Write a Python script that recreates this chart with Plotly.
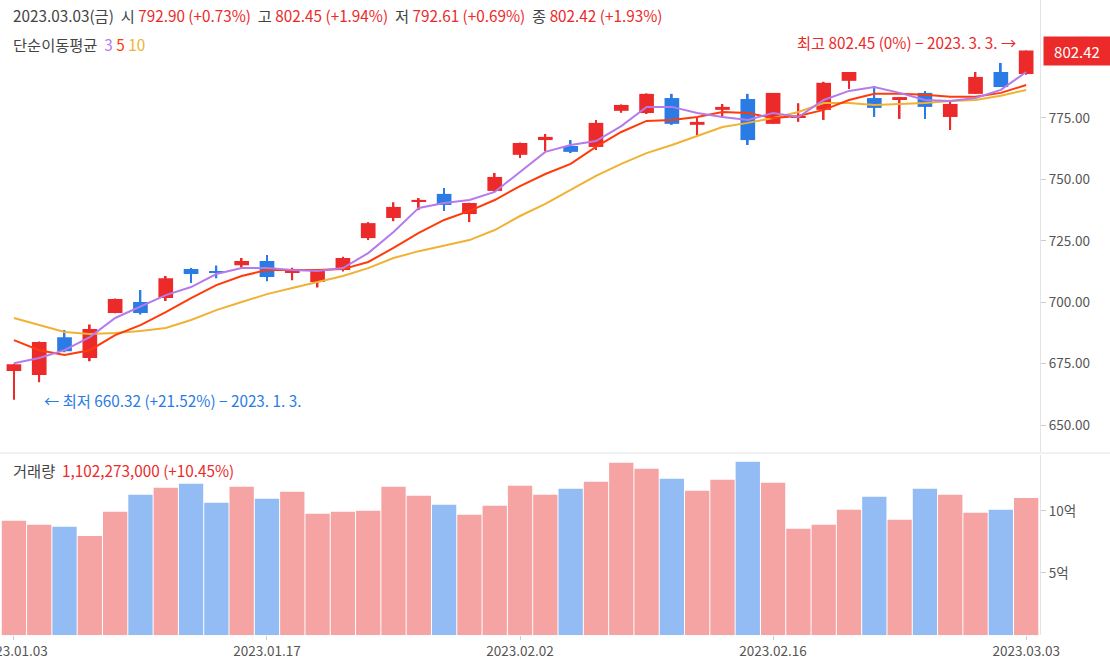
import plotly.graph_objects as go
from plotly.subplots import make_subplots

dates = ['2023-01-03', '2023-01-04', '2023-01-05', '2023-01-06', '2023-01-09', '2023-01-10', '2023-01-11',
         '2023-01-12', '2023-01-13', '2023-01-16', '2023-01-17', '2023-01-18', '2023-01-19', '2023-01-20',
         '2023-01-25', '2023-01-26', '2023-01-27', '2023-01-30', '2023-01-31', '2023-02-01', '2023-02-02',
         '2023-02-03', '2023-02-06', '2023-02-07', '2023-02-08', '2023-02-09', '2023-02-10', '2023-02-13',
         '2023-02-14', '2023-02-15', '2023-02-16', '2023-02-17', '2023-02-20', '2023-02-21', '2023-02-22',
         '2023-02-23', '2023-02-24', '2023-02-27', '2023-02-28', '2023-03-02', '2023-03-03']

opens = [672.0, 670.4, 685.8, 677.3, 695.6, 700.1, 701.7, 713.5, 712.7, 715.1, 716.8, 711.9, 708.2, 713.1,
         726.1, 734.3, 741.2, 744.1, 735.9, 745.3, 760.0, 766.0, 763.6, 763.2, 777.9, 777.0, 783.1, 772.2,
         778.3, 782.7, 772.6, 775.2, 778.3, 790.1, 783.1, 782.7, 785.2, 775.4, 784.8, 793.7, 792.90]
highs = [675.0, 684.0, 688.7, 691.0, 701.5, 705.0, 710.7, 713.9, 715.0, 718.0, 719.2, 714.0, 713.1, 718.5,
         732.6, 740.7, 742.4, 746.5, 740.5, 752.6, 765.0, 768.5, 766.0, 774.2, 780.5, 785.0, 784.8, 775.0,
         780.7, 784.8, 785.2, 781.0, 789.7, 793.7, 788.0, 783.5, 786.0, 781.5, 793.7, 797.4, 802.45]
lows = [660.32, 667.5, 679.7, 676.0, 695.5, 695.0, 700.5, 707.8, 709.8, 714.0, 708.6, 709.0, 706.0, 712.5,
        725.3, 733.0, 737.5, 737.1, 732.6, 745.0, 758.7, 761.5, 760.7, 762.0, 777.1, 776.6, 772.2, 768.0,
        775.4, 764.0, 772.6, 773.4, 774.2, 786.8, 775.4, 774.6, 774.6, 770.1, 784.8, 787.6, 792.61]
closes = [674.8, 683.8, 680.1, 689.1, 701.3, 695.6, 709.8, 711.5, 712.3, 716.8, 710.3, 713.1, 712.7, 718.0,
          732.2, 738.8, 741.6, 739.6, 740.4, 751.0, 764.8, 767.3, 761.2, 773.0, 780.3, 784.8, 772.6, 773.4,
          779.5, 766.0, 785.2, 775.6, 789.3, 793.7, 779.1, 783.5, 779.5, 780.7, 791.7, 787.6, 802.42]

ma3 = [675.2, 677.3, 680.5, 685.8, 693.6, 698.1, 702.9, 706.2, 711.5, 713.9, 713.9, 713.1, 712.7, 713.9,
       720.0, 728.6, 738.4, 740.4, 741.6, 744.9, 753.0, 761.2, 764.0, 765.6, 771.7, 779.5, 779.5, 777.0,
       775.4, 774.2, 777.0, 775.4, 782.3, 786.0, 787.6, 785.2, 782.3, 781.9, 783.1, 786.4, 793.7]
ma5 = [684.6, 680.5, 678.5, 680.5, 686.6, 690.7, 696.0, 701.7, 707.0, 710.7, 713.1, 713.1, 713.1, 713.5,
       716.4, 722.1, 728.2, 733.5, 737.2, 741.6, 747.3, 752.2, 756.3, 763.2, 769.3, 773.8, 774.2, 775.4,
       777.4, 777.0, 775.0, 775.8, 778.3, 782.3, 784.8, 784.8, 784.4, 783.6, 783.6, 785.2, 788.4]
ma10 = [693.6, 690.7, 687.9, 687.1, 687.5, 688.3, 689.5, 692.8, 696.8, 700.1, 703.3, 705.8, 708.2, 710.7,
        713.9, 718.0, 720.8, 722.9, 725.3, 729.4, 735.1, 740.0, 745.7, 751.4, 756.3, 760.7, 764.0, 767.7,
        771.3, 773.0, 775.0, 777.4, 781.1, 781.1, 780.3, 780.7, 781.1, 781.9, 782.3, 784.0, 786.4]

# volume in 억 (1e8)
volume = [9.19, 8.87, 8.71, 7.98, 9.92, 11.29, 11.85, 12.18, 10.65, 11.94, 10.97, 11.53, 9.76, 9.92,
          10.0, 11.94, 11.21, 10.48, 9.68, 10.40, 12.02, 11.29, 11.77, 12.34, 13.87, 13.39, 12.58, 11.61,
          12.5, 13.95, 12.26, 8.55, 8.87, 10.08, 11.13, 9.27, 11.77, 11.29, 9.84, 10.08, 11.02273]

tick_dates = ['2023-01-03', '2023-01-17', '2023-02-02', '2023-02-16', '2023-03-03']
tick_text = [d.replace('-', '.') for d in tick_dates]

RED = '#ec2a2a'
BLUE = '#2b7be4'
up = [c >= o for o, c in zip(opens, closes)]
candle_colors = [RED if u else BLUE for u in up]
vol_colors = ['#f5a3a3' if u else '#92bcf3' for u in up]

fig = make_subplots(rows=2, cols=1, shared_xaxes=True)

# wicks
fig.add_trace(go.Bar(x=dates, y=[h - l for h, l in zip(highs, lows)], base=lows, width=0.07,
                     marker=dict(color=candle_colors, line=dict(width=0)), hoverinfo='skip'), row=1, col=1)
# bodies
fig.add_trace(go.Bar(x=dates, y=[max(abs(c - o), 0.45) for o, c in zip(opens, closes)],
                     base=[min(o, c) for o, c in zip(opens, closes)], width=0.58,
                     marker=dict(color=candle_colors, line=dict(width=0)),
                     customdata=list(zip(opens, highs, lows, closes)),
                     hovertemplate='O %{customdata[0]}<br>H %{customdata[1]}<br>L %{customdata[2]}<br>C %{customdata[3]}<extra></extra>'),
              row=1, col=1)

fig.add_trace(go.Scatter(x=dates, y=ma10, mode='lines', line=dict(color='#f0b134', width=2)), row=1, col=1)
fig.add_trace(go.Scatter(x=dates, y=ma5, mode='lines', line=dict(color='#ff3b0a', width=2)), row=1, col=1)
fig.add_trace(go.Scatter(x=dates, y=ma3, mode='lines', line=dict(color='#b57bec', width=2)), row=1, col=1)

fig.add_trace(go.Bar(x=dates, y=volume, width=0.96, marker=dict(color=vol_colors, line=dict(width=0))),
              row=2, col=1)

fig.update_layout(
    width=1110, height=663, margin=dict(l=0, r=0, t=0, b=0),
    plot_bgcolor='white', paper_bgcolor='white', showlegend=False, barmode='overlay',
    font=dict(family='Noto Sans CJK KR, Noto Sans', size=13, color='#555'),
)
xcommon = dict(type='category', range=[-0.55, 40.55], domain=[0, 0.937], showgrid=False,
               zeroline=False, showline=False, fixedrange=True, automargin=False)
fig.update_xaxes(**xcommon, showticklabels=False, row=1, col=1)
fig.update_xaxes(**xcommon, tickmode='array', tickvals=tick_dates, ticktext=tick_text,
                 ticks='outside', ticklen=4, tickcolor='#ccc', tickfont=dict(size=13.5, color='#555'),
                 row=2, col=1)
fig.update_yaxes(domain=[0.318, 1], range=[639, 823], side='right', tickvals=[650, 675, 700, 725, 750, 775],
                 tickformat='.2f', showgrid=False, zeroline=False, showline=True, linecolor='#e4e4e4',
                 ticks='outside', ticklen=5, tickcolor='#ccc', tickfont=dict(size=13.5, color='#555'),
                 automargin=False, row=1, col=1)
fig.update_yaxes(domain=[0.042, 0.314], range=[0, 14.5], side='right', tickvals=[5, 10],
                 ticktext=['5억', '10억'], showgrid=False, zeroline=False, showline=True, linecolor='#e4e4e4',
                 ticks='outside', ticklen=5, tickcolor='#ccc', tickfont=dict(size=13.5, color='#555'),
                 automargin=False, row=2, col=1)

fig.add_shape(type='line', xref='paper', yref='paper', x0=0, x1=1, y0=1 - 453 / 663, y1=1 - 453 / 663,
              line=dict(color='#e4e4e4', width=1))


def span(t, c):
    return '<span style="color:%s">%s</span>' % (c, t)


header = ('2023.03.03(금)  시 ' + span('792.90 (+0.73%)', RED) + '  고 ' + span('802.45 (+1.94%)', RED)
          + '  저 ' + span('792.61 (+0.69%)', RED) + '  종 ' + span('802.42 (+1.93%)', RED))
notes = [
    dict(x=11 / 1110, y=1 - 15 / 663, text=header),
    dict(x=11 / 1110, y=1 - 44 / 663, text='단순이동평균  ' + span('3', '#b57bec') + ' ' + span('5', '#ff3b0a')
         + ' ' + span('10', '#f0b134')),
    dict(x=11 / 1110, y=1 - 470 / 663, text='거래량  ' + span('1,102,273,000 (+10.45%)', RED)),
]
for n in notes:
    fig.add_annotation(xref='paper', yref='paper', xanchor='left', yanchor='middle', showarrow=False,
                       font=dict(size=15.3, color='#444'), **n)

fig.add_annotation(xref='paper', yref='y', x=1043 / 1110, y=802.42, text='802.42', showarrow=False,
                   xanchor='left', yanchor='middle', bgcolor=RED, font=dict(color='white', size=15),
                   width=64, height=26)
fig.add_annotation(xref='x', yref='y', x='2023-03-03', y=806, text='최고 802.45 (0%) − 2023. 3. 3. →',
                   showarrow=False, xanchor='right', xshift=-8, font=dict(color=RED, size=15.3))
fig.add_annotation(xref='x', yref='y', x='2023-01-03', y=660.32, text='← 최저 660.32 (+21.52%) − 2023. 1. 3.',
                   showarrow=False, xanchor='left', xshift=28, font=dict(color=BLUE, size=15.3))

fig.write_html("out.html", config={'displayModeBar': False},
               post_script="document.body.style.margin='0';document.body.style.overflow='hidden';")
